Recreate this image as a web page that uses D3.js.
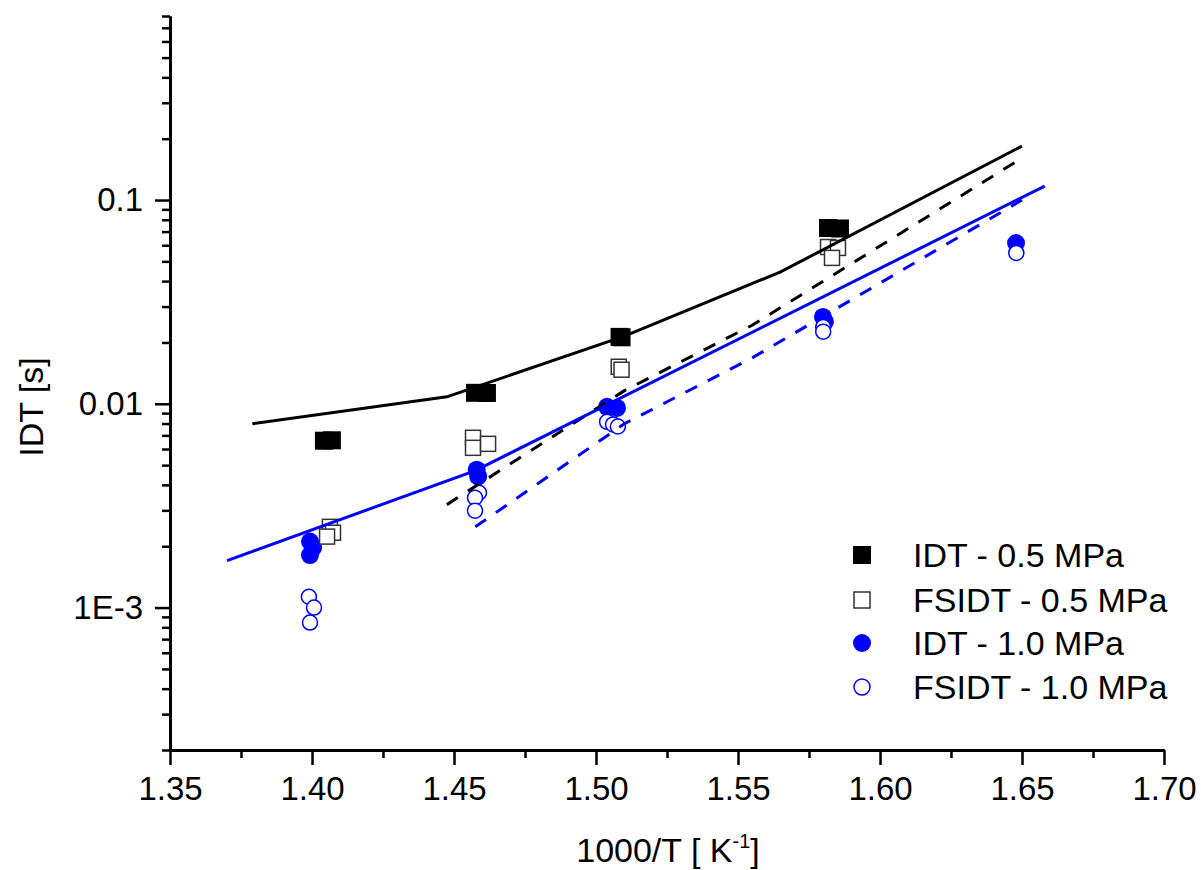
<!DOCTYPE html>
<html>
<head>
<meta charset="utf-8">
<script src="https://cdn.jsdelivr.net/npm/d3@7"></script>
<style>
  html, body { margin: 0; padding: 0; background: #fff; }
  svg text { font-family: "Liberation Sans", Arial, sans-serif; fill: #000; }
</style>
</head>
<body>
<svg id="chart" width="1201" height="870"></svg>
<script>
"use strict"

// measured points, 1000/T [1/K] vs IDT [s]
var idt05X   = [1.4042, 1.4070, 1.4574, 1.4616, 1.5083, 1.5090, 1.5817, 1.5859];
var idt05Y   = [0.00659, 0.00662, 0.01132, 0.01130, 0.0213, 0.0212, 0.0729, 0.0725];
var fsidt05X = [1.4063, 1.4074, 1.4053, 1.4567, 1.4567, 1.4620, 1.5080, 1.5090, 1.5817, 1.5852, 1.5831];
var fsidt05Y = [0.00249, 0.00233, 0.00223, 0.00681, 0.00608, 0.00636, 0.0152, 0.0147, 0.0588, 0.0582, 0.0520];
var idt10X   = [1.3993, 1.4004, 1.3993, 1.4580, 1.4585, 1.5039, 1.5074, 1.5799, 1.5806, 1.6479];
var idt10Y   = [0.00211, 0.00197, 0.00181, 0.00475, 0.00440, 0.00967, 0.00954, 0.0267, 0.0253, 0.0615];
var fsidt10X = [1.3989, 1.4007, 1.3993, 1.4588, 1.4574, 1.4574, 1.5039, 1.5060, 1.5077, 1.5800, 1.5800, 1.6480];
var fsidt10Y = [0.00113, 0.00100, 0.000844, 0.00366, 0.00346, 0.00299, 0.00816, 0.00792, 0.00774, 0.0238, 0.0226, 0.0550];

// model curves
var model05X   = [1.379, 1.4475, 1.51, 1.565, 1.65];
var model05Y   = [0.00798, 0.01082, 0.0215, 0.0444, 0.184];
var modelFs05X = [1.4475, 1.51, 1.555, 1.65];
var modelFs05Y = [0.0032, 0.0116, 0.0243, 0.1607];
var model10X   = [1.3701, 1.4575, 1.658];
var model10Y   = [0.0017, 0.0047, 0.1171];
var modelFs10X = [1.4575, 1.51, 1.555, 1.65];
var modelFs10Y = [0.00249, 0.00798, 0.0168, 0.100];

var xTicks      = [1.35, 1.40, 1.45, 1.50, 1.55, 1.60, 1.65, 1.70];
var xMinorTicks = [1.375, 1.425, 1.475, 1.525, 1.575, 1.625, 1.675];
var yTicks      = [0.001, 0.01, 0.1];
var yTickLabels = ["1E-3", "0.01", "0.1"];
var legendLabels = ["IDT - 0.5 MPa", "FSIDT - 0.5 MPa", "IDT - 1.0 MPa", "FSIDT - 1.0 MPa"];

function zip(xs, ys) {
    return xs.map((x, i) => ({ x: x, y: ys[i] }));
}

var svg = d3.select('#chart');
var x = d3.scaleLinear().domain([1.35, 1.70]).range([170, 1164]);
var y = d3.scaleLog().domain([2e-4, 0.8]).range([750, 16]);

// minor log ticks: 2..9 of each decade inside the domain
var yMinorTicks = [];
[1e-4, 1e-3, 1e-2, 1e-1].forEach(function(dec) {
    for (var m = 2; m <= 9; m++) {
        var v = m * dec;
        if (v >= 2e-4 * 0.999 && v <= 0.8 * 1.001)
            yMinorTicks.push(v);
    }
});

function styleAxis(g, width) {
    g.select('.domain').attr('stroke-width', 3).attr('stroke', '#000');
    g.selectAll('.tick line').attr('stroke-width', width).attr('stroke', '#000');
    g.selectAll('.tick text').attr('font-size', '33px')
        .style('font-family', '"Liberation Sans", Arial, sans-serif');
}

// axes
var gx = svg.append('g').attr('transform', 'translate(0,750)')
    .call(d3.axisBottom(x).tickValues(xTicks).tickSize(15).tickSizeOuter(0)
        .tickPadding(12).tickFormat(d3.format('.2f')));
styleAxis(gx, 2.5);
var gxm = svg.append('g').attr('transform', 'translate(0,750)')
    .call(d3.axisBottom(x).tickValues(xMinorTicks).tickSize(8).tickSizeOuter(0)
        .tickFormat(''));
styleAxis(gxm, 2.5);

var gy = svg.append('g').attr('transform', 'translate(170,0)')
    .call(d3.axisLeft(y).tickValues(yTicks).tickSize(15).tickSizeOuter(0)
        .tickPadding(12).tickFormat((d, i) => yTickLabels[i]));
styleAxis(gy, 2.5);
var gym = svg.append('g').attr('transform', 'translate(170,0)')
    .call(d3.axisLeft(y).tickValues(yMinorTicks).tickSize(8).tickSizeOuter(0)
        .tickFormat(''));
styleAxis(gym, 2.5);

// axis titles
svg.append('text')
    .attr('transform', 'translate(43,407) rotate(-90)')
    .attr('text-anchor', 'middle')
    .attr('font-size', '34px')
    .text('IDT [s]');

var xt = svg.append('text')
    .attr('x', 668).attr('y', 862)
    .attr('text-anchor', 'middle')
    .attr('font-size', '34px');
xt.append('tspan').text('1000/T [ K');
xt.append('tspan').attr('font-size', '20px').attr('dy', -14).text('-1');
xt.append('tspan').attr('dy', 14).text(']');

// markers
var plot = svg.append('g');

function squares(data, cls, fill, stroke, size, sw) {
    plot.selectAll('rect.' + cls).data(data).enter()
        .append('rect')
        .attr('class', cls)
        .attr('x', d => x(d.x) - size / 2)
        .attr('y', d => y(d.y) - size / 2)
        .attr('width', size).attr('height', size)
        .attr('fill', fill).attr('stroke', stroke).attr('stroke-width', sw);
}

function circles(data, cls, fill, stroke, r, sw) {
    plot.selectAll('circle.' + cls).data(data).enter()
        .append('circle')
        .attr('class', cls)
        .attr('cx', d => x(d.x))
        .attr('cy', d => y(d.y))
        .attr('r', r)
        .attr('fill', fill).attr('stroke', stroke).attr('stroke-width', sw);
}

squares(zip(idt05X, idt05Y), 'idt05', '#000', 'none', 18, 0);
circles(zip(idt10X, idt10Y), 'idt10', '#0000ff', 'none', 9, 0);
squares(zip(fsidt05X, fsidt05Y), 'fsidt05', '#fff', '#333', 15, 1.5);
circles(zip(fsidt10X, fsidt10Y), 'fsidt10', '#fff', '#0000ff', 7.5, 1.5);

// model lines
var line = d3.line().x(d => x(d.x)).y(d => y(d.y));
function drawLine(data, color, dash) {
    plot.append('path')
        .datum(data)
        .attr('d', line)
        .attr('fill', 'none')
        .attr('stroke', color)
        .attr('stroke-width', 3)
        .attr('stroke-dasharray', dash);
}
drawLine(zip(model05X, model05Y), '#000', null);
drawLine(zip(modelFs05X, modelFs05Y), '#000', '13,12');
drawLine(zip(model10X, model10Y), '#0000ff', null);
drawLine(zip(modelFs10X, modelFs10Y), '#0000ff', '13,12');

// legend
var legendRows = [555, 600, 643, 687];
var legend = svg.append('g');
legend.selectAll('text').data(legendLabels).enter()
    .append('text')
    .attr('x', 913)
    .attr('y', (d, i) => legendRows[i] + 12)
    .attr('font-size', '34px')
    .text(d => d);

legend.append('rect').attr('x', 853).attr('y', legendRows[0] - 9)
    .attr('width', 18).attr('height', 18).attr('fill', '#000');
legend.append('rect').attr('x', 854).attr('y', legendRows[1] - 8)
    .attr('width', 16).attr('height', 16)
    .attr('fill', '#fff').attr('stroke', '#333').attr('stroke-width', 1.5);
legend.append('circle').attr('cx', 862).attr('cy', legendRows[2]).attr('r', 9)
    .attr('fill', '#0000ff');
legend.append('circle').attr('cx', 862).attr('cy', legendRows[3]).attr('r', 8)
    .attr('fill', '#fff').attr('stroke', '#0000ff').attr('stroke-width', 1.5);
</script>
</body>
</html>
